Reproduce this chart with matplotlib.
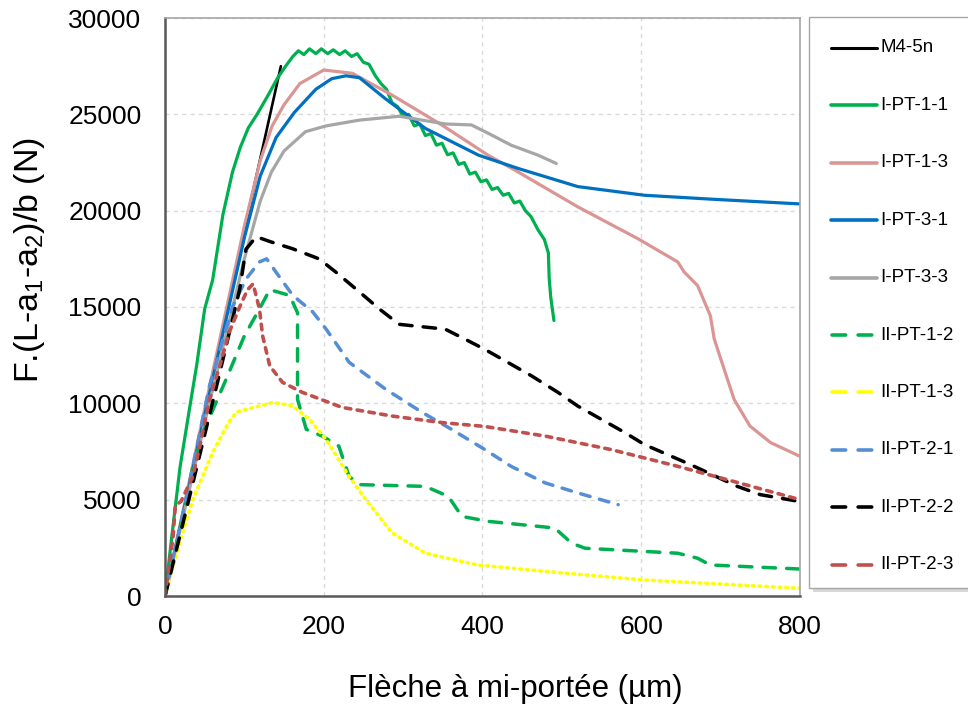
import matplotlib
matplotlib.use("Agg")
import matplotlib.pyplot as plt
from matplotlib.lines import Line2D
from matplotlib.patches import Rectangle

plt.rcParams['font.family'] = ['Liberation Sans', 'DejaVu Sans']
plt.rcParams['mathtext.default'] = 'regular'
plt.rcParams['lines.scale_dashes'] = False

# ---------------- data ----------------
labels = ["M4-5n", "I-PT-1-1", "I-PT-1-3", "I-PT-3-1", "I-PT-3-3",
          "II-PT-1-2", "II-PT-1-3", "II-PT-2-1", "II-PT-2-2", "II-PT-2-3"]

m45n_x = [0, 50, 100, 146]
m45n_y = [0, 9500, 19000, 27500]

pt11_x = [0, 10, 19, 30, 40, 50, 60, 73, 85, 95, 105, 116, 130, 142, 152, 161, 168, 175, 182,
          190, 197, 205, 212, 220, 227, 235, 242, 250, 257, 265, 272, 279, 286, 293, 300, 307,
          314, 321, 328, 335, 342, 349, 356, 363, 370, 377, 384, 391, 398, 405, 412, 419, 426,
          433, 440, 447, 454, 461, 470, 478, 483, 484, 486, 490]
pt11_y = [0, 3600, 6700, 9500, 12000, 14900, 16400, 19800, 22000, 23300, 24300, 25000, 26000,
          26900, 27500, 28000, 28300, 28100, 28400, 28150, 28400, 28150, 28350, 28100, 28300,
          28000, 28150, 27700, 27600, 27000, 26600, 26300, 25600, 25400, 24900, 25000, 24400,
          24500, 23900, 24000, 23400, 23500, 22900, 23000, 22400, 22500, 21900, 22000, 21500,
          21600, 21100, 21200, 20800, 20900, 20400, 20500, 20000, 19700, 19000, 18500, 17800,
          16500, 15500, 14300]

pt13_x = [0, 50, 100, 120, 135, 150, 170, 200, 236, 286, 349, 407, 441, 520, 596, 646, 654,
          671, 687, 692, 717, 737, 763, 800]
pt13_y = [0, 9700, 19200, 22600, 24400, 25500, 26600, 27300, 27130, 26000, 24440, 22880, 22100,
          20200, 18540, 17340, 16820, 16110, 14550, 13330, 10200, 8820, 7960, 7250]

pt31_x = [0, 50, 100, 120, 140, 163, 190, 210, 228, 245, 278, 328, 395, 445, 520, 604, 687, 800]
pt31_y = [0, 9400, 18600, 21800, 23800, 25100, 26300, 26850, 27000, 26900, 25800, 24270, 22880,
          22190, 21250, 20800, 20600, 20350]

pt33_x = [0, 50, 100, 120, 134, 150, 177, 203, 245, 295, 353, 386, 408, 436, 470, 493]
pt33_y = [0, 9000, 17500, 20500, 22000, 23100, 24100, 24400, 24700, 24900, 24500, 24450, 24000,
          23400, 22880, 22450]

pt2_12_x = [0, 20, 35, 48, 77, 100, 119, 132, 157, 167, 167, 178, 198, 219, 232, 245, 328, 357,
            374, 408, 491, 512, 529, 646, 671, 687, 800]
pt2_12_y = [0, 3500, 6700, 8500, 11250, 13500, 14900, 15900, 15600, 14700, 10200, 8650, 8300,
            7780, 6200, 5780, 5690, 5170, 4130, 3870, 3530, 2750, 2480, 2220, 1960, 1610, 1400]

pt2_13_x = [0, 10, 20, 35, 60, 80, 90, 119, 136, 161, 182, 203, 232, 253, 286, 328, 395, 500,
            604, 700, 800]
pt2_13_y = [0, 1500, 3000, 5000, 7450, 9000, 9550, 9860, 10050, 9860, 9170, 8120, 6200, 5000,
            3280, 2220, 1600, 1200, 830, 620, 400]

pt2_21_x = [0, 30, 56, 85, 102, 119, 128, 140, 161, 186, 203, 232, 278, 324, 361, 403, 436, 479,
            520, 571]
pt2_21_y = [0, 5700, 10900, 15000, 16450, 17340, 17500, 16800, 15600, 14750, 13850, 12130, 10730,
            9530, 8650, 7600, 6730, 5870, 5350, 4740]

pt2_22_x = [0, 30, 65, 94, 102, 115, 132, 161, 194, 215, 245, 270, 295, 353, 378, 403, 462, 495,
            520, 579, 604, 662, 721, 750, 800]
pt2_22_y = [0, 5000, 10900, 15900, 18000, 18650, 18400, 18020, 17500, 16820, 15780, 14900, 14100,
            13850, 13330, 12800, 11420, 10570, 9860, 8490, 7860, 6820, 5690, 5260, 4900]

pt2_23_x = [0, 10, 13, 20, 35, 44, 56, 69, 81, 94, 104, 111, 119, 123, 132, 148, 173, 223, 286,
            349, 403, 479, 562, 646, 708, 800]
pt2_23_y = [0, 3000, 4700, 4900, 6200, 7800, 10200, 11940, 13700, 15000, 15900, 16200, 14900,
            13500, 11940, 11090, 10570, 9790, 9340, 9000, 8800, 8300, 7600, 6730, 6040, 5000]

xs = [m45n_x, pt11_x, pt13_x, pt31_x, pt33_x, pt2_12_x, pt2_13_x, pt2_21_x, pt2_22_x, pt2_23_x]
ys = [m45n_y, pt11_y, pt13_y, pt31_y, pt33_y, pt2_12_y, pt2_13_y, pt2_21_y, pt2_22_y, pt2_23_y]

x_ticks = [0, 200, 400, 600, 800]
y_ticks = [0, 5000, 10000, 15000, 20000, 25000, 30000]

# ---------------- styles ----------------
colors = ["#000000", "#00B050", "#D99694", "#0070C0", "#A6A6A6",
          "#00B050", "#FFFF00", "#558ED5", "#000000", "#C0504D"]
widths = [1.9, 2.3, 2.3, 2.3, 2.3, 2.5, 2.6, 2.5, 2.5, 2.6]
dashes = [None, None, None, None, None,
          (9, 8), (1.2, 3.6), (7, 7), (9, 8), (4, 4.6)]

W, H = 968, 704
fig = plt.figure(figsize=(W / 100, H / 100), dpi=100)
ax = fig.add_axes([165 / W, 1 - 596 / H, (800 - 165) / W, (596 - 18) / H])

for x, y, c, lw, d in zip(xs, ys, colors, widths, dashes):
    if d is None:
        ax.plot(x, y, color=c, lw=lw, solid_capstyle='round', solid_joinstyle='round')
    else:
        ax.plot(x, y, color=c, lw=lw, dashes=d, dash_capstyle='round', dash_joinstyle='round')

ax.set_xlim(0, 800)
ax.set_ylim(0, 30000)
ax.set_xticks(x_ticks)
ax.set_yticks(y_ticks)
ax.tick_params(length=0, labelsize=19, colors='#000000')
ax.tick_params(axis='y', pad=17)
ax.tick_params(axis='x', pad=14)
ax.grid(True, color='#D9D9D9', lw=1.0, dashes=(3, 3))
ax.set_axisbelow(True)

for s in ['left', 'bottom']:
    ax.spines[s].set_color('#595959')
    ax.spines[s].set_linewidth(1.8)
for s in ['top', 'right']:
    ax.spines[s].set_color('#A6A6A6')
    ax.spines[s].set_linewidth(1.2)

ax.set_xlabel("Flèche à mi-portée (µm)", fontsize=22.5)
ax.xaxis.set_label_coords((515 - 165) / 635, (596 - 674) / 578)
ax.set_ylabel("F.(L-a$_1$-a$_2$)/b (N)", fontsize=24.5)
ax.yaxis.set_label_coords((47 - 165) / 635, (596 - 260) / 578)

# ---------------- legend (drawn in figure pixels) ----------------
def fx(px):
    return px / W

def fy(py):
    return 1 - py / H

shadow = Rectangle((fx(813), fy(592)), fx(990) - fx(813), fy(21) - fy(592),
                   transform=fig.transFigure, facecolor='#BFBFBF', edgecolor='none',
                   alpha=0.6, zorder=1)
box = Rectangle((fx(809), fy(588)), fx(990) - fx(809), fy(17) - fy(588),
                transform=fig.transFigure, facecolor='white', edgecolor='#A6A6A6',
                lw=1.0, zorder=2)
fig.add_artist(shadow)
fig.add_artist(box)

for i, (lab, c) in enumerate(zip(labels, colors)):
    yy = fy(48 + 57.4 * i)
    if i < 5:
        ln = Line2D([fx(831), fx(877)], [yy, yy], transform=fig.transFigure, color=c,
                    lw=widths[i] + 0.3, solid_capstyle='round', zorder=3)
    else:
        ln = Line2D([fx(832), fx(876)], [yy, yy], transform=fig.transFigure, color=c,
                    lw=2.6, dashes=(9.8, 9.0), dash_capstyle='round', zorder=3)
    fig.add_artist(ln)
    fig.text(fx(880), yy, lab, fontsize=13.5, va='center', ha='left', zorder=4)

fig.savefig("out.png", dpi=100)
